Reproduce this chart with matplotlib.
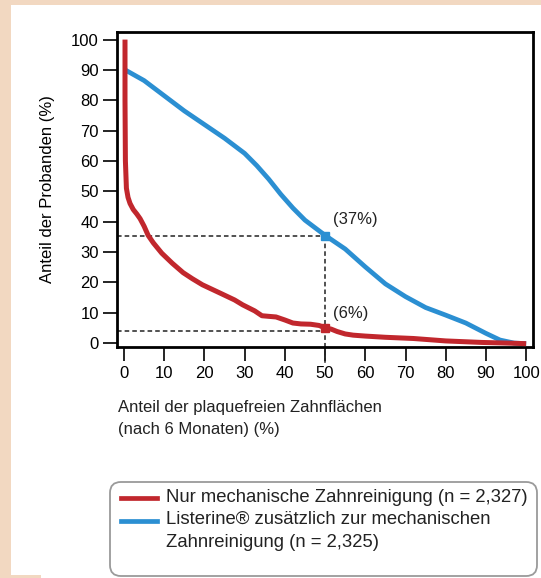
import matplotlib
matplotlib.use("Agg")
import matplotlib.pyplot as plt
from matplotlib.patches import FancyBboxPatch, Rectangle
from matplotlib.lines import Line2D

plt.rcParams['font.family'] = ['Liberation Sans', 'DejaVu Sans']

# ---- data ----
red_x = [0.25, 0.25, 0.35, 0.6, 1.0, 1.5, 2.3, 3.2, 4.0, 5.0, 6.0, 7.3, 9.4, 12, 14.7, 17, 19.5, 24,
         27.5, 29.5, 32.5, 34.3, 36, 37.8, 40, 42, 44, 46.4, 48.5, 50, 51.5, 53, 55, 57, 60, 65,
         72, 80, 89, 95, 100]
red_y = [100, 80, 60, 51, 48, 46, 44, 42.5, 41, 38.5, 35.5, 33, 29.6, 26.3, 23.2, 21.2, 19.2,
         16.4, 14.2, 12.6, 10.6, 9.0, 8.8, 8.6, 7.6, 6.6, 6.3, 6.2, 5.8, 5.0, 4.6, 3.8, 3.0, 2.6,
         2.3, 1.9, 1.5, 0.7, 0.2, 0.0, -0.2]

blue_x = [0.3, 5, 10, 15, 20, 25, 30, 33, 36, 39, 42, 45, 50, 55, 60, 65, 70, 75, 80, 85, 90,
          93.5, 97, 100]
blue_y = [90, 86.5, 81.5, 76.5, 72, 67.5, 62.5, 58.5, 54, 49, 44.5, 40.5, 35.5, 31, 25.1, 19.5,
          15.3, 11.7, 9.2, 6.6, 3.2, 1.0, 0.0, -0.2]

marker_x = 50
blue_mark_y = 35.4
red_mark_y = 4.8
blue_ref_y = 35.3
red_ref_y = 4.0

labels_pct = ["(37%)", "(6%)"]
label_xy = [(52, 40.8), (52, 9.9)]

x_ticks = [0, 10, 20, 30, 40, 50, 60, 70, 80, 90, 100]
y_ticks = [0, 10, 20, 30, 40, 50, 60, 70, 80, 90, 100]

legend_labels = ["Nur mechanische Zahnreinigung (n = 2,327)",
                 "Listerine\u00ae zus\u00e4tzlich zur mechanischen\nZahnreinigung (n = 2,325)"]

RED = '#c1272d'
BLUE = '#2b8fd2'
BEIGE = '#f2d8c1'

W, H = 541, 578
fig = plt.figure(figsize=(W / 100, H / 100), dpi=100, facecolor=BEIGE)

# white panel
for r in [(11 / W, 3 / H, 1 - 11 / W, 1 - 8 / H), (41 / W, 0, 1, 4 / H)]:
    fig.patches.append(Rectangle(r[:2], r[2], r[3], transform=fig.transFigure,
                                 facecolor='white', edgecolor='none', zorder=-10))

left, right, top, bottom = 117, 533, 31.7, 347
ax = fig.add_axes([left / W, 1 - bottom / H, (right - left) / W, (bottom - top) / H])
ax.set_facecolor('white')
ax.set_xlim(-1.74, 101.7)
ax.set_ylim(-1.3, 102.6)

for s in ax.spines.values():
    s.set_linewidth(2.0)
    s.set_color('black')

ax.set_xticks(x_ticks)
ax.set_yticks(y_ticks)
ax.tick_params(axis='both', direction='out', length=10, width=1.2, labelsize=12, pad=3,
               colors='black')
ax.tick_params(axis='x', pad=4)

# reference dashed lines
ax.plot([-1.74, marker_x], [blue_ref_y, blue_ref_y], ls=(0, (3, 2)), color='#222222', lw=1.1, zorder=2)
ax.plot([-1.74, marker_x], [red_ref_y, red_ref_y], ls=(0, (3, 2)), color='#222222', lw=1.1, zorder=2)
ax.plot([marker_x, marker_x], [blue_ref_y, -7.2], ls=(0, (3, 2)), color='#222222', lw=1.1,
        zorder=2, clip_on=False)

ax.plot(blue_x, blue_y, color=BLUE, lw=3.4, solid_capstyle='butt', solid_joinstyle='round', zorder=3)
ax.plot(red_x, red_y, color=RED, lw=3.6, solid_capstyle='butt', solid_joinstyle='round', zorder=4)

ax.plot([marker_x], [blue_mark_y], marker='s', ms=6, color=BLUE, zorder=5)
ax.plot([marker_x], [red_mark_y], marker='s', ms=6, color=RED, zorder=5)

for t, (tx, ty) in zip(labels_pct, label_xy):
    ax.text(tx, ty, t, fontsize=12, ha='left', va='center', color='#222222')

ax.set_ylabel("Anteil der Probanden (%)", fontsize=12, labelpad=12)

fig.text(118 / W, 1 - 400 / H, "Anteil der plaquefreien Zahnfl\u00e4chen\n(nach 6 Monaten) (%)",
         fontsize=12, ha='left', va='top', linespacing=1.6, color='#222222')

# legend box
fig.patches.append(FancyBboxPatch((110 / W, 2 / H), (537 - 110) / W, (96 - 2) / H,
                                  boxstyle="round,pad=0,rounding_size=0.02",
                                  transform=fig.transFigure, facecolor='white',
                                  edgecolor='#9a9a9a', linewidth=1.3, zorder=1,
                                  mutation_aspect=W / H))
fig.lines.append(Line2D([121 / W, 157 / W], [1 - 498 / H, 1 - 498 / H], transform=fig.transFigure,
                        color=RED, lw=3.4))
fig.lines.append(Line2D([121 / W, 157 / W], [1 - 521 / H, 1 - 521 / H], transform=fig.transFigure,
                        color=BLUE, lw=3.4))
fig.text(166 / W, 1 - 498 / H, legend_labels[0], fontsize=13.3, ha='left', va='center', color='#222222')
fig.text(166 / W, 1 - 511 / H, legend_labels[1], fontsize=13.3, ha='left', va='top',
         linespacing=1.45, color='#222222')

fig.savefig("out.png", dpi=100, facecolor=BEIGE)
